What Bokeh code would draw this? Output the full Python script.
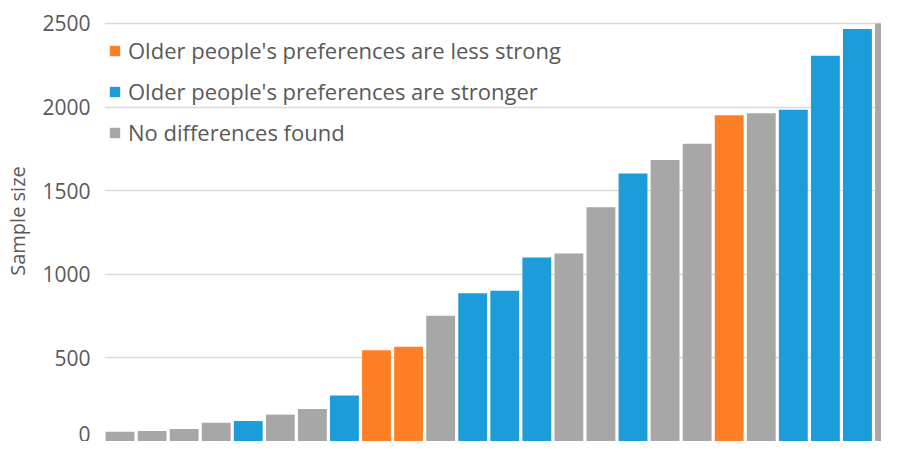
from bokeh.plotting import figure
from bokeh.models import ColumnDataSource, Range1d, Legend, LegendItem, SingleIntervalTicker
from bokeh.embed import file_html
from bokeh.resources import INLINE

# Data
groups = ["none", "none", "none", "none", "stronger", "none", "none", "stronger",
          "less", "less", "none", "stronger", "stronger", "stronger", "none", "none",
          "stronger", "none", "none", "less", "none", "stronger", "stronger", "stronger", "none"]
sample_sizes = [59, 63, 75, 112, 122, 161, 194, 275, 545, 567, 752, 886, 902, 1100,
                1124, 1400, 1602, 1684, 1780, 1951, 1963, 1984, 2306, 2467, 2500]
legend_labels = {
    "less": "Older people's preferences are less strong",
    "stronger": "Older people's preferences are stronger",
    "none": "No differences found",
}
colors = {"less": "#FF7F27", "stronger": "#1C9CD8", "none": "#A7A7A7"}
legend_order = ["less", "stronger", "none"]
y_ticks_step = 500

p = figure(width=881, height=441, output_backend="svg", toolbar_location=None,
           x_range=Range1d(-0.484, 23.75), y_range=Range1d(0, 2637),
           min_border_left=104, min_border_right=0, min_border_top=0, min_border_bottom=0)

items = []
for g in legend_order:
    xs = [i for i, gg in enumerate(groups) if gg == g]
    tops = [sample_sizes[i] for i in xs]
    src = ColumnDataSource(dict(x=xs, top=tops))
    r = p.vbar(x="x", top="top", width=0.9, source=src, fill_color=colors[g],
               line_color=None)
    items.append(LegendItem(label=legend_labels[g], renderers=[r]))

p.xaxis.visible = False
p.xgrid.grid_line_color = None
p.ygrid.grid_line_color = "#D9D9D9"
p.ygrid.grid_line_width = 1.5
p.yaxis.ticker = SingleIntervalTicker(interval=y_ticks_step)
p.yaxis.axis_line_color = None
p.yaxis.major_tick_line_color = None
p.yaxis.minor_tick_line_color = None
p.yaxis.major_label_text_font = "Open Sans"
p.yaxis.major_label_text_font_size = "21px"
p.yaxis.major_label_text_color = "#595959"
p.yaxis.major_label_standoff = 8
p.yaxis.axis_label = "Sample size"
p.yaxis.axis_label_text_font = "Open Sans"
p.yaxis.axis_label_text_font_size = "20px"
p.yaxis.axis_label_text_font_style = "normal"
p.yaxis.axis_label_text_color = "#595959"
p.yaxis.axis_label_standoff = 8
p.outline_line_color = None

legend = Legend(items=items, location=(4, 294), orientation="vertical",
                label_text_font="Open Sans", label_text_font_size="22px",
                label_text_color="#595959", glyph_width=13, glyph_height=13,
                label_height=30, spacing=11, padding=4, margin=0,
                label_standoff=7, border_line_color=None, background_fill_alpha=0)
p.add_layout(legend, "center")

open("out.html", "w").write(file_html(p, INLINE))
